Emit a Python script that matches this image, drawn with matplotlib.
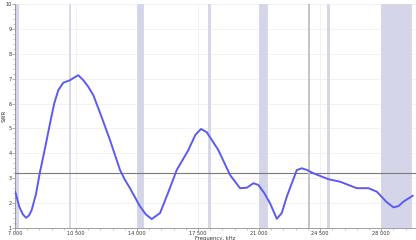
import numpy as np
import matplotlib.pyplot as plt
from matplotlib.ticker import MultipleLocator, FuncFormatter

# SWR sweep (kHz, SWR)
freq_khz = [7000, 7250, 7450, 7631, 7800, 7958, 8200, 8434, 8750, 9037, 9250, 9484,
            9771, 10156, 10400, 10632, 10919, 11200, 11493, 11975, 12451, 13025,
            13311, 13598, 14143, 14500, 14843, 15320, 15800, 16278, 16943, 17350,
            17672, 18000, 18665, 19336, 19910, 20300, 20673, 20960, 21300, 21631,
            22016, 22300, 22590, 23163, 23450, 23750, 24116, 24977, 25648, 26606,
            27271, 27753, 28300, 28706, 29000, 29280, 29819]
swr = [2.49, 1.85, 1.55, 1.41, 1.50, 1.72, 2.35, 3.25, 4.30, 5.30, 6.00, 6.54,
       6.84, 6.94, 7.05, 7.14, 6.94, 6.68, 6.34, 5.45, 4.53, 3.33,
       2.93, 2.60, 1.90, 1.55, 1.36, 1.60, 2.45, 3.33, 4.13, 4.75,
       4.98, 4.85, 4.13, 3.13, 2.60, 2.62, 2.80, 2.73, 2.40, 1.99,
       1.37, 1.60, 2.26, 3.33, 3.40, 3.33, 3.20, 2.96, 2.86, 2.60,
       2.60, 2.46, 2.05, 1.83, 1.88, 2.06, 2.30]

# amateur bands shown as shaded spans (kHz)
band_lo = [7000, 10100, 14000, 18068, 21000, 24890, 28000]
band_hi = [7200, 10150, 14350, 18168, 21450, 24990, 29700]

cursor_freq = 23870
cursor_swr = 3.22

plt.rcParams['font.family'] = 'DejaVu Sans'

fig = plt.figure(figsize=(4.16, 2.40), dpi=100)
ax = fig.add_axes([0.036, 0.05, 0.964, 0.933])

for lo, hi in zip(band_lo, band_hi):
    ax.axvspan(lo, hi, color='#d5d5ea', lw=0.6, zorder=1)

ax.plot(freq_khz, swr, color='#5b5bf2', lw=1.4, zorder=4,
        solid_joinstyle='round', solid_capstyle='round')

ax.axhline(cursor_swr, color='#7a7a7a', lw=0.8, zorder=3)
ax.axvline(cursor_freq, color='#c4c4c4', lw=1.4, zorder=3)

ax.set_xlim(7000, 30000)
ax.set_ylim(1, 10)
ax.xaxis.set_major_locator(MultipleLocator(3500))
ax.xaxis.set_minor_locator(MultipleLocator(700))
ax.yaxis.set_major_locator(MultipleLocator(1))
ax.yaxis.set_minor_locator(MultipleLocator(0.2))
ax.xaxis.set_major_formatter(FuncFormatter(lambda v, p: f"{int(v):,}".replace(',', ' ')))

ax.grid(which='major', color='#f0f0f0', lw=0.6, zorder=0)
ax.set_axisbelow(True)

for s in ['top', 'right']:
    ax.spines[s].set_visible(False)
for s in ['left', 'bottom']:
    ax.spines[s].set_color('#909090')
    ax.spines[s].set_linewidth(0.6)

ax.tick_params(which='major', length=2, width=0.5, color='#909090',
               labelsize=3.6, labelcolor='#333333', pad=0.3)
ax.tick_params(which='minor', length=1.2, width=0.4, color='#a0a0a0')

ax.set_xlabel('Frequency, kHz', fontsize=3.8, color='#333333')
ax.set_ylabel('SWR', fontsize=3.8, color='#333333')
ax.xaxis.set_label_coords(0.5, -0.046)
ax.yaxis.set_label_coords(-0.026, 0.5)
ax.xaxis.label.set_va('center')
ax.yaxis.label.set_va('center')

fig.savefig('out.png', dpi=100)
